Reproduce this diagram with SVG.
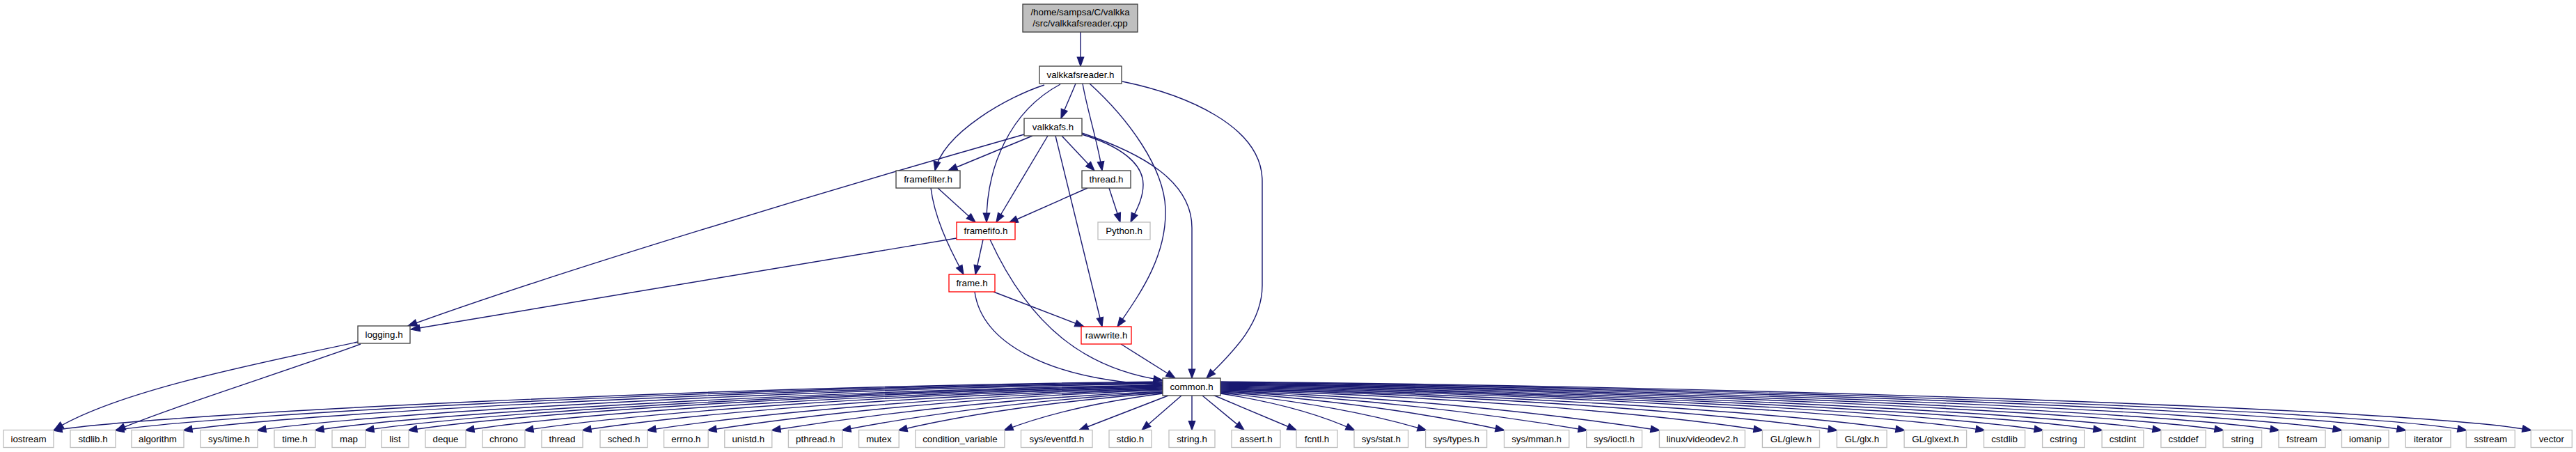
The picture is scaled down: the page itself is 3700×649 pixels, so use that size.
<svg xmlns="http://www.w3.org/2000/svg" width="3700" height="649" viewBox="0 0 3700 649">
<style>
.n rect{fill:#ffffff;stroke:#404040;stroke-width:1.33}
.n.r rect{stroke:#ff0000}
.n.g rect{stroke:#bfbfbf}
.n.top rect{fill:#bfbfbf;stroke:#404040}
.n text{font-family:"Liberation Sans",Arial,Helvetica,sans-serif;font-size:13.33px;text-anchor:middle;fill:#000}
#edges path{fill:none;stroke:#191970;stroke-width:1.4;marker-end:url(#ah)}
</style>
<defs>
<marker id="ah" markerUnits="userSpaceOnUse" markerWidth="15" markerHeight="11" refX="13" refY="4.75" orient="auto" overflow="visible">
<path d="M0,0 L13,4.75 L0,9.5 Z" fill="#191970" stroke="#191970" stroke-width="1.2"/>
</marker>
</defs>
<rect width="3700" height="649" fill="#ffffff"/>
<g id="edges">
<path d="M1552,46 L1552,95"/>
<path d="M1545,120 C1539,135 1531,152 1524,170"/>
<path d="M1500,122 C1450,138 1355,190 1343,245"/>
<path d="M1523,121 C1450,160 1417,240 1417,319"/>
<path d="M1555,120 C1562,160 1577,205 1583,245"/>
<path d="M1565,120 C1620,170 1672,240 1674,300 C1676,370 1635,425 1605,469"/>
<path d="M1612,117 C1700,135 1813,180 1813,260 L1813,410 C1813,470 1760,515 1733,543"/>
<path d="M1471,193 C1200,270 800,390 586,468"/>
<path d="M1374,342 L590,473"/>
<path d="M1483,195 L1362,245"/>
<path d="M1505,195 L1431,319"/>
<path d="M1516,195 L1583,469"/>
<path d="M1525,195 L1572,245"/>
<path d="M1554,193 C1610,210 1642,235 1642,265 C1642,285 1632,302 1624,319"/>
<path d="M1554,191 C1640,220 1712,260 1712,327 L1712,543"/>
<path d="M1347,270 L1401,319"/>
<path d="M1337,270 C1342,310 1360,350 1384,394"/>
<path d="M1562,270 L1449,320"/>
<path d="M1593,270 L1609,319"/>
<path d="M1412,344 L1401,394"/>
<path d="M1422,344 C1480,470 1560,530 1670,546"/>
<path d="M1400,419 C1410,490 1500,545 1670,553"/>
<path d="M1427,419 L1557,469"/>
<path d="M1610,494 L1688,543"/>
<path d="M514,491 C380,520 170,560 78,617"/>
<path d="M518,494 C420,530 230,590 167,618"/>
<path d="M1670,548 C1032,555 236,593 76,618"/>
<path d="M1670,549 C1068,556 325,593 165,618"/>
<path d="M1670,550 C1107,557 423,593 263,618"/>
<path d="M1670,551 C1150,558 529,593 369,618"/>
<path d="M1670,553 C1183,560 612,593 452,618"/>
<path d="M1670,554 C1212,561 684,593 524,618"/>
<path d="M1670,555 C1236,562 746,593 586,618"/>
<path d="M1670,556 C1269,563 828,593 668,618"/>
<path d="M1670,557 C1303,564 913,593 753,618"/>
<path d="M1670,558 C1336,566 996,593 836,618"/>
<path d="M1670,559 C1374,568 1089,593 929,618"/>
<path d="M1670,560 C1408,570 1176,593 1016,618"/>
<path d="M1670,562 C1445,572 1265,593 1108,618"/>
<path d="M1670,563 C1486,574 1338,593 1209,618"/>
<path d="M1670,564 C1518,576 1396,593 1290,618"/>
<path d="M1670,565 C1579,577 1506,593 1442,618"/>
<path d="M1678,568 L1550,617.5"/>
<path d="M1697,568 L1640,617.5"/>
<path d="M1712,568 L1712,617.5"/>
<path d="M1727,568 L1787,617.5"/>
<path d="M1742,567 L1862,617.5"/>
<path d="M1753,565 C1830,577 1892,593 1946,618"/>
<path d="M1753,564 C1871,576 1966,593 2049,618"/>
<path d="M1753,563 C1916,574 2047,593 2161,618"/>
<path d="M1753,562 C1964,572 2132,593 2280,618"/>
<path d="M1753,561 C2005,570 2224,593 2384,618"/>
<path d="M1753,560 C2065,568 2372,593 2532,618"/>
<path d="M1753,559 C2107,566 2479,593 2639,618"/>
<path d="M1753,558 C2146,565 2576,593 2736,618"/>
<path d="M1753,557 C2192,564 2691,593 2851,618"/>
<path d="M1753,556 C2226,563 2775,593 2935,618"/>
<path d="M1753,555 C2260,562 2860,593 3020,618"/>
<path d="M1753,554 C2294,561 2945,593 3105,618"/>
<path d="M1753,553 C2329,560 3034,592 3194,618"/>
<path d="M1753,552 C2361,559 3113,591 3274,618"/>
<path d="M1753,551 C2397,558 3204,590 3364,618"/>
<path d="M1753,550 C2435,557 3297,589 3456,618"/>
<path d="M1753,549 C2469,556 3384,588 3543,618"/>
<path d="M1753,548 C2507,555 3476,587 3636,618"/>
</g>
<g id="n_cpp" class="n top"><rect x="1469" y="6" width="165" height="40"/><text x="1551.5" y="22">/home/sampsa/C/valkka</text><text x="1551.5" y="38">/src/valkkafsreader.cpp</text></g>
<g id="n_valkkafsreader" class="n"><rect x="1493" y="95" width="118" height="25"/><text x="1552" y="112">valkkafsreader.h</text></g>
<g id="n_valkkafs" class="n"><rect x="1471" y="170" width="83" height="25"/><text x="1512.5" y="187">valkkafs.h</text></g>
<g id="n_framefilter" class="n"><rect x="1287" y="245" width="92" height="25"/><text x="1333" y="262">framefilter.h</text></g>
<g id="n_thread_h" class="n"><rect x="1554" y="245" width="70" height="25"/><text x="1589" y="262">thread.h</text></g>
<g id="n_framefifo" class="n r"><rect x="1374" y="319" width="84" height="25"/><text x="1416" y="336">framefifo.h</text></g>
<g id="n_python" class="n g"><rect x="1577" y="319" width="75" height="25"/><text x="1614.5" y="336">Python.h</text></g>
<g id="n_frame" class="n r"><rect x="1363" y="394" width="66" height="25"/><text x="1396" y="411">frame.h</text></g>
<g id="n_rawwrite" class="n r"><rect x="1553" y="469" width="72" height="25"/><text x="1589" y="486">rawwrite.h</text></g>
<g id="n_logging" class="n"><rect x="514" y="468" width="75" height="25"/><text x="551.5" y="485">logging.h</text></g>
<g id="n_common" class="n"><rect x="1670" y="543" width="83" height="25"/><text x="1711.5" y="560">common.h</text></g>
<g id="n_iostream" class="n g"><rect x="5" y="617.5" width="72" height="25"/><text x="41" y="634.5">iostream</text></g>
<g id="n_stdlib" class="n g"><rect x="101" y="617.5" width="65" height="25"/><text x="133.5" y="634.5">stdlib.h</text></g>
<g id="n_algorithm" class="n g"><rect x="189" y="617.5" width="75" height="25"/><text x="226.5" y="634.5">algorithm</text></g>
<g id="n_systime" class="n g"><rect x="288" y="617.5" width="82" height="25"/><text x="329" y="634.5">sys/time.h</text></g>
<g id="n_time" class="n g"><rect x="394" y="617.5" width="59" height="25"/><text x="423.5" y="634.5">time.h</text></g>
<g id="n_map" class="n g"><rect x="477" y="617.5" width="48" height="25"/><text x="501" y="634.5">map</text></g>
<g id="n_list" class="n g"><rect x="548" y="617.5" width="39" height="25"/><text x="567.5" y="634.5">list</text></g>
<g id="n_deque" class="n g"><rect x="611" y="617.5" width="58" height="25"/><text x="640" y="634.5">deque</text></g>
<g id="n_chrono" class="n g"><rect x="693" y="617.5" width="61" height="25"/><text x="723.5" y="634.5">chrono</text></g>
<g id="n_thread" class="n g"><rect x="778" y="617.5" width="59" height="25"/><text x="807.5" y="634.5">thread</text></g>
<g id="n_sched" class="n g"><rect x="862" y="617.5" width="68" height="25"/><text x="896" y="634.5">sched.h</text></g>
<g id="n_errno" class="n g"><rect x="953.6" y="617.5" width="63.6" height="25"/><text x="985.4" y="634.5">errno.h</text></g>
<g id="n_unistd" class="n g"><rect x="1040.8" y="617.5" width="68" height="25"/><text x="1074.8" y="634.5">unistd.h</text></g>
<g id="n_pthread" class="n g"><rect x="1132.4" y="617.5" width="77.6" height="25"/><text x="1171.2" y="634.5">pthread.h</text></g>
<g id="n_mutex" class="n g"><rect x="1233.6" y="617.5" width="57.6" height="25"/><text x="1262.4" y="634.5">mutex</text></g>
<g id="n_condvar" class="n g"><rect x="1314.8" y="617.5" width="128.1" height="25"/><text x="1378.9" y="634.5">condition_variable</text></g>
<g id="n_eventfd" class="n g"><rect x="1466.5" y="617.5" width="102.5" height="25"/><text x="1517.8" y="634.5">sys/eventfd.h</text></g>
<g id="n_stdio" class="n g"><rect x="1593" y="617.5" width="61" height="25"/><text x="1623.5" y="634.5">stdio.h</text></g>
<g id="n_string_h" class="n g"><rect x="1679" y="617.5" width="66" height="25"/><text x="1712" y="634.5">string.h</text></g>
<g id="n_assert" class="n g"><rect x="1769" y="617.5" width="70" height="25"/><text x="1804" y="634.5">assert.h</text></g>
<g id="n_fcntl" class="n g"><rect x="1862" y="617.5" width="59" height="25"/><text x="1891.5" y="634.5">fcntl.h</text></g>
<g id="n_sysstat" class="n g"><rect x="1945" y="617.5" width="77.6" height="25"/><text x="1983.8" y="634.5">sys/stat.h</text></g>
<g id="n_systypes" class="n g"><rect x="2047.6" y="617.5" width="88" height="25"/><text x="2091.6" y="634.5">sys/types.h</text></g>
<g id="n_sysmman" class="n g"><rect x="2160.5" y="617.5" width="93.2" height="25"/><text x="2207.1" y="634.5">sys/mman.h</text></g>
<g id="n_sysioctl" class="n g"><rect x="2278.7" y="617.5" width="79.8" height="25"/><text x="2318.6" y="634.5">sys/ioctl.h</text></g>
<g id="n_videodev2" class="n g"><rect x="2383.4" y="617.5" width="123" height="25"/><text x="2444.9" y="634.5">linux/videodev2.h</text></g>
<g id="n_glew" class="n g"><rect x="2531.4" y="617.5" width="82.1" height="25"/><text x="2572.5" y="634.5">GL/glew.h</text></g>
<g id="n_glx" class="n g"><rect x="2638.4" y="617.5" width="71.7" height="25"/><text x="2674.3" y="634.5">GL/glx.h</text></g>
<g id="n_glxext" class="n g"><rect x="2735.1" y="617.5" width="89.5" height="25"/><text x="2779.9" y="634.5">GL/glxext.h</text></g>
<g id="n_cstdlib" class="n g"><rect x="2849.5" y="617.5" width="59.1" height="25"/><text x="2879.1" y="634.5">cstdlib</text></g>
<g id="n_cstring" class="n g"><rect x="2933.6" y="617.5" width="60.6" height="25"/><text x="2963.9" y="634.5">cstring</text></g>
<g id="n_cstdint" class="n g"><rect x="3019.1" y="617.5" width="59.8" height="25"/><text x="3049" y="634.5">cstdint</text></g>
<g id="n_cstddef" class="n g"><rect x="3103.9" y="617.5" width="64.3" height="25"/><text x="3136.1" y="634.5">cstddef</text></g>
<g id="n_string" class="n g"><rect x="3193.1" y="617.5" width="55.5" height="25"/><text x="3220.9" y="634.5">string</text></g>
<g id="n_fstream" class="n g"><rect x="3273" y="617.5" width="67" height="25"/><text x="3306.5" y="634.5">fstream</text></g>
<g id="n_iomanip" class="n g"><rect x="3363.5" y="617.5" width="67.5" height="25"/><text x="3397.3" y="634.5">iomanip</text></g>
<g id="n_iterator" class="n g"><rect x="3455.3" y="617.5" width="64.7" height="25"/><text x="3487.7" y="634.5">iterator</text></g>
<g id="n_sstream" class="n g"><rect x="3542.3" y="617.5" width="70" height="25"/><text x="3577.3" y="634.5">sstream</text></g>
<g id="n_vector" class="n g"><rect x="3635.3" y="617.5" width="59" height="25"/><text x="3664.8" y="634.5">vector</text></g>
</svg>
